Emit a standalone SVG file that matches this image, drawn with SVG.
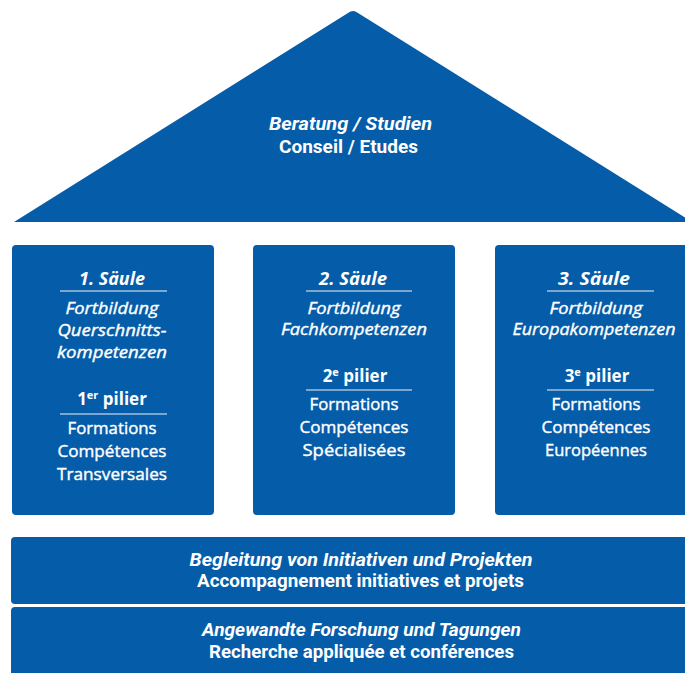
<svg xmlns="http://www.w3.org/2000/svg" width="685" height="673" viewBox="0 0 685 673">
<style>
.blk{fill:#055ca8}
.t{fill:#ffffff;stroke:#ffffff;stroke-width:0.4;font-family:"Open Sans","Noto Sans",sans-serif;font-size:17px;text-anchor:middle}
.c{fill:#ffffff;font-family:Roboto,"Liberation Sans",sans-serif;font-size:19px;font-weight:bold;text-anchor:middle}
.i{font-style:italic}
.t.b{font-weight:bold;stroke-width:0}
.ul{stroke:#a4c0dd;stroke-width:1.5}
</style>
<rect width="685" height="673" fill="#ffffff"/>
<g id="roof">
<path class="blk" d="M14 222 L348 13 Q353 9 358 13 L692 222 Z"/>
<text class="c i" x="350.5" y="130" textLength="163" lengthAdjust="spacingAndGlyphs">Beratung / Studien</text>
<text class="c" x="348.5" y="153" textLength="139" lengthAdjust="spacingAndGlyphs">Conseil / Etudes</text>
</g>
<g id="pillar1">
<rect class="blk" x="12" y="245" width="202" height="270" rx="4"/>
<text class="t b i" x="112" y="285" textLength="66" lengthAdjust="spacingAndGlyphs">1. Säule</text>
<line class="ul" x1="60" y1="291" x2="167" y2="291"/>
<text class="t i" x="112" y="314" textLength="93" lengthAdjust="spacingAndGlyphs">Fortbildung</text>
<text class="t i" x="112" y="336" textLength="109" lengthAdjust="spacingAndGlyphs">Querschnitts-</text>
<text class="t i" x="112" y="358" textLength="110" lengthAdjust="spacingAndGlyphs">kompetenzen</text>
<text class="t b" x="112" y="405">1<tspan font-size="11" dy="-6">er</tspan><tspan dy="6"> pilier</tspan></text>
<line class="ul" x1="60" y1="414" x2="167" y2="414"/>
<text class="t" x="112" y="434" textLength="89" lengthAdjust="spacingAndGlyphs">Formations</text>
<text class="t" x="112" y="457" textLength="109" lengthAdjust="spacingAndGlyphs">Compétences</text>
<text class="t" x="112" y="480" textLength="110" lengthAdjust="spacingAndGlyphs">Transversales</text>
</g>
<g id="pillar2">
<rect class="blk" x="253" y="245" width="202" height="270" rx="4"/>
<text class="t b i" x="353" y="285" textLength="68" lengthAdjust="spacingAndGlyphs">2. Säule</text>
<line class="ul" x1="306" y1="291" x2="412" y2="291"/>
<text class="t i" x="354" y="314" textLength="93" lengthAdjust="spacingAndGlyphs">Fortbildung</text>
<text class="t i" x="354" y="335" textLength="146" lengthAdjust="spacingAndGlyphs">Fachkompetenzen</text>
<text class="t b" x="355" y="382">2<tspan font-size="11" dy="-6">e</tspan><tspan dy="6"> pilier</tspan></text>
<line class="ul" x1="306" y1="390" x2="412" y2="390"/>
<text class="t" x="354" y="410" textLength="89" lengthAdjust="spacingAndGlyphs">Formations</text>
<text class="t" x="354" y="433" textLength="109" lengthAdjust="spacingAndGlyphs">Compétences</text>
<text class="t" x="354" y="456" textLength="103" lengthAdjust="spacingAndGlyphs">Spécialisées</text>
</g>
<g id="pillar3">
<rect class="blk" x="495" y="245" width="202" height="270" rx="4"/>
<text class="t b i" x="594" y="285" textLength="72" lengthAdjust="spacingAndGlyphs">3. Säule</text>
<line class="ul" x1="547" y1="291" x2="654" y2="291"/>
<text class="t i" x="596" y="314" textLength="93" lengthAdjust="spacingAndGlyphs">Fortbildung</text>
<text class="t i" x="594" y="335" textLength="163" lengthAdjust="spacingAndGlyphs">Europakompetenzen</text>
<text class="t b" x="597" y="382">3<tspan font-size="11" dy="-6">e</tspan><tspan dy="6"> pilier</tspan></text>
<line class="ul" x1="547" y1="390" x2="654" y2="390"/>
<text class="t" x="596" y="410" textLength="89" lengthAdjust="spacingAndGlyphs">Formations</text>
<text class="t" x="596" y="433" textLength="109" lengthAdjust="spacingAndGlyphs">Compétences</text>
<text class="t" x="596" y="456" textLength="102" lengthAdjust="spacingAndGlyphs">Européennes</text>
</g>
<g id="band1">
<rect class="blk" x="11" y="537" width="690" height="67" rx="4"/>
<text class="c i" x="361" y="566" textLength="343" lengthAdjust="spacingAndGlyphs">Begleitung von Initiativen und Projekten</text>
<text class="c" x="360.5" y="587" textLength="327" lengthAdjust="spacingAndGlyphs">Accompagnement initiatives et projets</text>
</g>
<g id="band2">
<rect class="blk" x="11" y="607" width="690" height="80" rx="4"/>
<text class="c i" x="361.5" y="636" textLength="319" lengthAdjust="spacingAndGlyphs">Angewandte Forschung und Tagungen</text>
<text class="c" x="361.5" y="658" textLength="305" lengthAdjust="spacingAndGlyphs">Recherche appliquée et conférences</text>
</g>
<g id="connectors"/>
</svg>
